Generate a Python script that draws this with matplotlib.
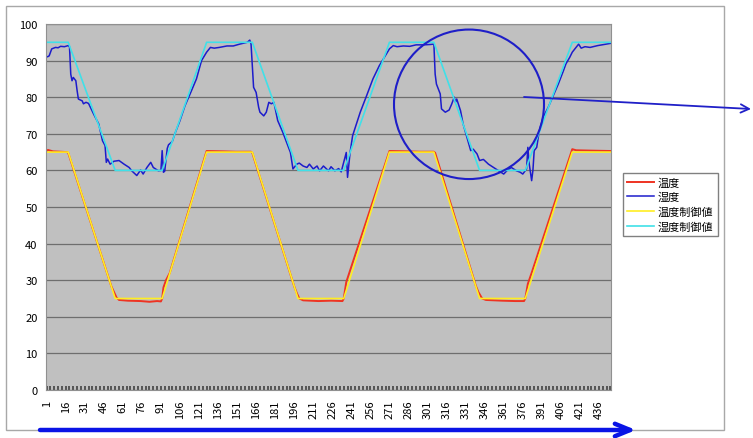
import numpy as np
import matplotlib
matplotlib.use('Agg')
import matplotlib.pyplot as plt
from matplotlib.patches import Rectangle, Ellipse

plt.rcParams['font.family'] = ['Noto Sans CJK JP', 'DejaVu Sans']

# category count on the x axis
n_points = 445

# control values: straight segments between these category positions
ctrl_x = [1, 18, 55, 92, 127, 163, 199, 235, 271, 306, 342, 378, 415, 445]
temp_ctrl = [65, 65, 25, 25, 65, 65, 25, 25, 65, 65, 25, 25, 65, 65]
hum_ctrl = [95, 95, 60, 60, 95, 95, 60, 60, 95, 95, 60, 60, 95, 95]

temp_x = [1, 2, 4, 6, 12, 17, 18, 52, 54, 56, 58, 65, 75, 82, 88, 91, 92, 93, 95, 98,
          127, 140, 150, 162, 163, 196, 198, 200, 203, 215, 225, 234, 235, 237,
          271, 285, 295, 306, 307, 339, 341, 344, 347, 360, 370, 377, 378, 380, 383,
          415, 418, 430, 445]
temp_y = [65.3, 65.6, 65.4, 65.2, 65.1, 65.0, 64.8, 28.3, 26.8, 25.3, 24.6, 24.4, 24.3, 24.1, 24.3, 24.2, 25.0, 28.0, 30.0, 32.0,
          65.3, 65.2, 65.1, 65.1, 64.8, 28.3, 26.5, 25.0, 24.5, 24.3, 24.4, 24.3, 25.0, 29.5,
          65.3, 65.2, 65.1, 65.1, 64.8, 28.5, 26.8, 25.0, 24.6, 24.4, 24.3, 24.3, 25.0, 29.0, 32.0,
          65.8, 65.5, 65.4, 65.3]

hum_x = [1, 2, 3, 5, 8, 10, 12, 15, 18, 19, 20, 21, 22, 24, 25, 26, 29, 30, 32, 34, 38, 42, 45, 47, 48, 49,
         51, 54, 58, 62, 66, 68, 72, 75, 77, 80, 83, 85, 89, 91, 92, 93, 94, 96, 97, 100, 102, 106, 110,
         114, 119, 123, 127, 130, 133, 137, 143, 148, 153, 159, 161, 162, 164, 166, 168, 169, 172, 174,
         176, 178, 180, 183, 187, 193, 195, 198, 200, 203, 206, 208, 211, 214, 216, 219, 223, 225, 228,
         231, 233, 235, 237, 238, 240, 242, 248, 253, 258, 263, 267, 271, 274, 277, 282, 287, 292, 298,
         303, 306, 307, 308, 311, 312, 315, 318, 320, 322, 323, 324, 327, 329, 332, 335, 337, 340, 342,
         345, 349, 353, 357, 361, 364, 367, 371, 374, 376, 379, 380, 381, 383, 384, 385, 387, 389, 392,
         396, 400, 404, 408, 410, 413, 415, 418, 420, 422, 425, 429, 435, 440, 445]
hum_y = [91.0, 91.1, 91.3, 93.2, 93.6, 93.5, 93.9, 93.8, 94.1, 93.8, 86.3, 84.5, 85.4, 84.5, 81.8, 79.5, 79.0, 78.2, 78.6, 78.3, 75.4, 72.7, 68.1, 66.8, 62.2, 63.1,
         61.7, 62.5, 62.7, 61.7, 60.8, 59.9, 58.6, 60.1, 59.0, 60.8, 62.2, 60.8, 59.9, 60.0, 65.4, 59.5, 59.8, 66.0, 67.0, 67.9, 70.0, 73.6, 77.7,
         80.9, 85.0, 90.0, 92.3, 93.6, 93.4, 93.6, 94.0, 94.0, 94.5, 95.0, 95.6, 94.5, 82.7, 81.3, 77.2, 75.9, 74.9, 75.9,
         78.6, 78.2, 78.6, 73.6, 70.4, 64.9, 60.4, 61.7, 62.0, 61.2, 60.8, 61.7, 60.4, 61.2, 59.9, 61.2, 59.9, 61.0, 59.9,
         60.5, 59.6, 62.2, 64.9, 58.1, 64.9, 69.5, 75.9, 80.4, 85.0, 88.6, 90.9, 93.2, 94.1, 93.8, 94.0, 93.9, 94.3, 94.3,
         94.4, 94.5, 86.3, 83.6, 80.9, 76.8, 75.9, 76.5, 78.1, 80.0, 78.6, 79.5, 76.3, 72.7, 69.0, 65.4, 65.8, 64.5, 62.7,
         63.0, 61.7, 60.8, 59.9, 59.0, 60.1, 60.8, 59.9, 59.5, 59.0, 60.4, 66.3, 62.0, 57.2, 60.0, 65.4, 66.3, 70.8, 74.5,
         77.2, 80.4, 83.6, 87.2, 89.1, 90.9, 92.3, 93.6, 94.5, 93.4, 93.8, 93.6, 94.1, 94.4, 94.7]

labels = ['温度', '湿度', '温度制御値', '湿度制御値']
colors = ['#ee3322', '#1c1ccc', '#ffee22', '#40e0e8']

fig = plt.figure(figsize=(7.53, 4.39), dpi=100)
ax = fig.add_axes([46 / 753, 1 - 391 / 439, 565 / 753, 366 / 439])
ax.set_facecolor('#c0c0c0')

l1, = ax.plot(temp_x, temp_y, color=colors[0], lw=1.4)
l2, = ax.plot(hum_x, hum_y, color=colors[1], lw=1.1)
l3, = ax.plot(ctrl_x, temp_ctrl, color=colors[2], lw=1.2)
l4, = ax.plot(ctrl_x, hum_ctrl, color=colors[3], lw=1.2)

ax.set_xlim(0.5, n_points + 0.5)
ax.set_ylim(0, 100)
ax.set_yticks(range(0, 101, 10))
ax.yaxis.grid(True, color='#6e6e6e', lw=0.9)
ax.set_axisbelow(True)

xt = list(range(1, n_points + 1, 15))
ax.set_xticks(xt)
ax.set_xticklabels([str(v) for v in xt], rotation=90)
ax.set_xticks(range(1, n_points + 1, 3), minor=True)
ax.tick_params(axis='x', which='both', direction='in', length=3.2, width=1.4, color='#555555', pad=7, labelsize=8)
ax.tick_params(axis='y', length=0, pad=6, labelsize=8)
for s in ax.spines.values():
    s.set_color('#909090')
    s.set_linewidth(0.8)

fig.legend([l1, l2, l3, l4], labels, loc='upper left', bbox_to_anchor=(623 / 753, 1 - 174 / 439),
           fontsize=8, frameon=True, fancybox=False, edgecolor='#808080', framealpha=1,
           handlelength=2.4, handletextpad=0.4, labelspacing=0.4, borderpad=0.35, borderaxespad=0)

# overlay in pixel coordinates for frame and hand-drawn marks
ov = fig.add_axes([0, 0, 1, 1])
ov.set_xlim(0, 753)
ov.set_ylim(439, 0)
ov.axis('off')
ov.patch.set_alpha(0)
ov.add_patch(Rectangle((6.5, 6.5), 717.5, 425, fill=False, ec='#a8a8a8', lw=1))
ov.add_patch(Ellipse((469, 105.3), 150, 149.5, fill=False, ec='#1e1ec8', lw=1.5))
ov.annotate('', xy=(751, 110), xytext=(524, 98),
            arrowprops=dict(arrowstyle='->,head_length=0.6,head_width=0.3', color='#2020c8', lw=1.3,
                            shrinkA=0, shrinkB=0))
ov.annotate('', xy=(636, 431), xytext=(40, 431),
            arrowprops=dict(arrowstyle='->,head_length=1.1,head_width=0.45', color='#0a14e6', lw=3.2,
                            shrinkA=0, shrinkB=0))

fig.savefig('out.png', dpi=100)
